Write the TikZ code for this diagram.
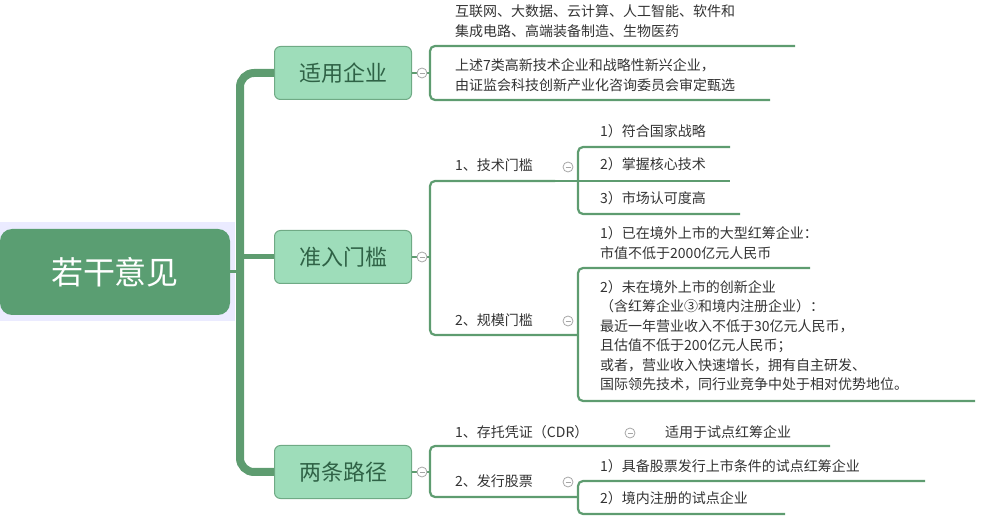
\documentclass[tikz,border=0pt]{standalone}
\usepackage{fontspec}
\setmainfont{Noto Sans CJK SC}
\begin{document}
\begin{tikzpicture}[x=1pt,y=-1pt,
  ln/.style={draw=lg,line width=2.2pt,rounded corners=5pt},
  txt/.style={anchor=west,inner sep=0pt,font=\fontsize{14}{19.5}\selectfont,text=tx,align=left},
  br/.style={draw=bb,fill=bf,rounded corners=6pt,line width=1pt,minimum width=137pt,minimum height=53pt,font=\fontsize{22}{24}\selectfont,text=bt},
  cc/.style={circle,draw=gray!70,line width=0.8pt,minimum size=10pt,inner sep=0pt,fill=white}]
\definecolor{lg}{HTML}{5E9C70}
\definecolor{bb}{HTML}{6FAA85}
\definecolor{bf}{HTML}{9EDDBA}
\definecolor{bt}{HTML}{2F6246}
\definecolor{tx}{HTML}{333333}
\definecolor{rt}{HTML}{5A9E72}
\useasboundingbox (0,0) rectangle (997,521);
% root
\fill[fill=blue!8] (0,222) rectangle (235,321);
\node[fill=rt,rounded corners=12pt,minimum width=230pt,minimum height=86pt,font=\fontsize{32}{34}\selectfont,text=white] (root) at (115,272) {若干意见};
% branches
\node[br] (b1) at (343,73) {适用企业};
\node[br] (b2) at (343,257) {准入门槛};
\node[br] (b3) at (343,472) {两条路径};
\draw[draw=lg,line width=8pt,rounded corners=14pt] (b1.west) -- (240,73) -- (240,472) -- (b3.west);
\draw[draw=lg,line width=5pt] (240,257) -- (b2.west);
\draw[draw=lg,line width=3pt] (root.east) -- (240,272);
% branch 1
\draw[ln] (b1.east) -- (430,73);
\draw[ln] (795,46) -- (430,46) -- (430,100) -- (770,100);
\node[txt] (t11) at (455,21) {互联网、大数据、云计算、人工智能、软件和\\集成电路、高端装备制造、生物医药};
\node[txt] (t12) at (455,75) {上述7类高新技术企业和战略性新兴企业，\\由证监会科技创新产业化咨询委员会审定甄选};
\node[cc] (c1) at (422,73) {};
% branch 2
\draw[ln] (b2.east) -- (430,257);
\draw[ln] (555,181) -- (430,181) -- (430,335) -- (578,335);
\node[txt] (t21) at (455,165) {1、技术门槛};
\node[txt] (t22) at (455,320) {2、规模门槛};
\draw[ln] (730,147) -- (578,147) -- (578,214) -- (740,214);
\draw[ln] (555,181) -- (730,181);
\node[txt] (s1) at (600,131) {1）符合国家战略};
\node[txt] (s2) at (600,164) {2）掌握核心技术};
\node[txt] (s3) at (600,198) {3）市场认可度高};
\draw[ln] (810,268) -- (578,268) -- (578,401) -- (975,401);
\node[txt] (s4) at (600,243) {1）已在境外上市的大型红筹企业：\\市值不低于2000亿元人民币};
\node[txt] (s5) at (600,336) {2）未在境外上市的创新企业\\（含红筹企业③和境内注册企业）：\\最近一年营业收入不低于30亿元人民币，\\且估值不低于200亿元人民币；\\或者，营业收入快速增长，拥有自主研发、\\国际领先技术，同行业竞争中处于相对优势地位。};
\node[cc] (c2) at (422,257) {};
\node[cc] (c21) at (568,167) {};
\node[cc] (c22) at (568,321) {};
% branch 3
\draw[ln] (b3.east) -- (430,472);
\draw[ln] (830,446) -- (430,446) -- (430,497) -- (578,497);
\node[txt] (t31) at (455,432) {1、存托凭证（CDR）};
\node[txt] (t32) at (455,481) {2、发行股票};
\node[txt] (t33) at (665,432) {适用于试点红筹企业};
\draw[ln] (925,481) -- (578,481) -- (578,514) -- (785,514);
\node[txt] (s6) at (600,466) {1）具备股票发行上市条件的试点红筹企业};
\node[txt] (s7) at (600,498) {2）境内注册的试点企业};
\node[cc] (c3) at (422,472) {};
\node[cc] (c31) at (630,433) {};
\node[cc] (c32) at (568,482) {};
\foreach \c in {c1,c2,c3,c21,c22,c31,c32}{\draw[gray!70,line width=0.8pt] ([xshift=-2.5pt]\c.center) -- ([xshift=2.5pt]\c.center);}
\end{tikzpicture}
\end{document}
